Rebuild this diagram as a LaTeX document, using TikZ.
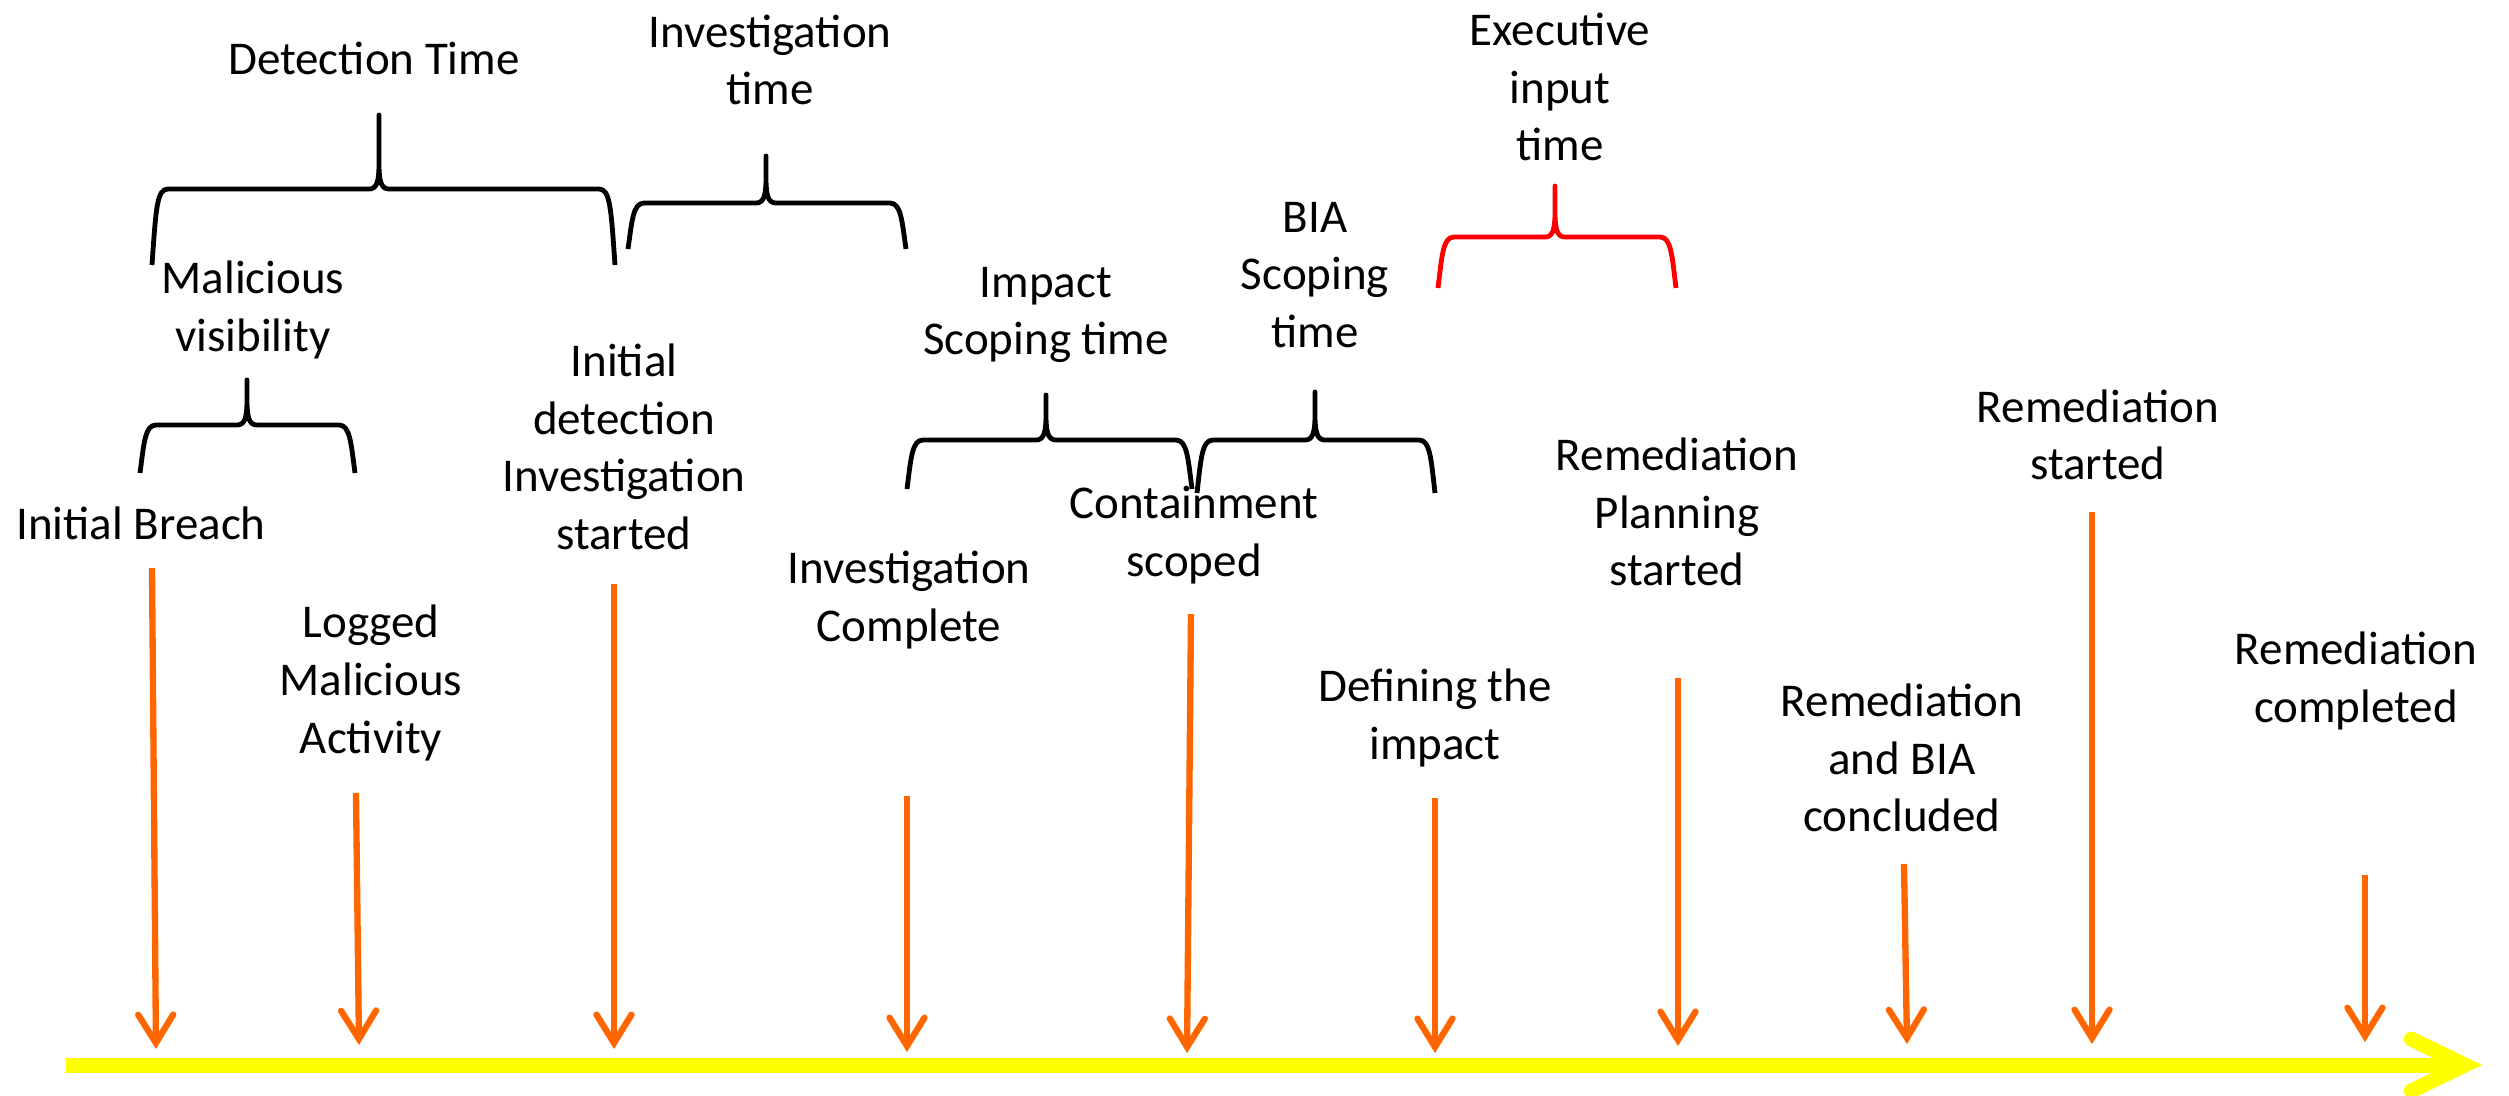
\documentclass[tikz,border=0pt]{standalone}
\usepackage{fontspec}
\setmainfont{Carlito}
\usetikzlibrary{arrows.meta}
\definecolor{arrorange}{RGB}{255,102,0}
\definecolor{axisyellow}{RGB}{255,255,0}
\newcommand{\timebrace}[7]{%
 \draw[#1] (#2,#7) .. controls (#2+4,#5+18) and (#2+5,#5) .. (#2+16,#5)
 -- (#4-10,#5) .. controls (#4-2,#5) and (#4,#5-8) .. (#4,#5-25) -- (#4,#6)
 -- (#4,#5-25) .. controls (#4,#5-8) and (#4+2,#5) .. (#4+10,#5)
 -- (#3-16,#5) .. controls (#3-5,#5) and (#3-4,#5+18) .. (#3,#7);}
\begin{document}
\begin{tikzpicture}[x=0.3pt,y=-0.3pt,
 lbl/.style={align=center, inner sep=0pt, font=\fontsize{14.1pt}{17.3pt}\selectfont},
 evarrow/.style={draw=arrorange, line width=1.9pt, -{Straight Barb[length=8.5pt,width=10.5pt,line cap=round]}},
 axisline/.style={draw=axisyellow, line width=4.5pt, -{Straight Barb[length=16pt,width=15.5pt,line cap=round]}},
 brc/.style={draw=black, line width=1.45pt, line join=round},
 brcred/.style={brc, draw=red}]
\path[use as bounding box] (0,0) rectangle (2509,1095);

% braces
\timebrace{brc}{152}{615}{379}{189}{115}{265}
\timebrace{brc}{628}{906}{766}{203}{156}{249}
\timebrace{brc}{140}{355}{247}{425}{380}{473}
\timebrace{brcred}{1438}{1676}{1555}{237}{186}{288}
\timebrace{brc}{907}{1192}{1046}{440}{395}{489}
\timebrace{brc}{1197}{1435}{1315}{440}{392}{493}

% labels
\node[lbl] (detT) at (374,58) {Detection Time};
\node[lbl] (invT) at (770,60) {Investigation\\time};
\node[lbl] (exeT) at (1560,87) {Executive\\input\\time};
\node[lbl] (malV) at (253,310) {Malicious\\visibility};
\node[lbl] (iniD) at (624,447) {Initial\\detection\\Investigation\\started};
\node[lbl] (impS) at (1046,315) {Impact\\Scoping time};
\node[lbl] (biaS) at (1315,275) {BIA\\Scoping\\time};
\node[lbl] (iniB) at (141,523) {Initial Breach};
\node[lbl] (invC) at (909,600) {Investigation\\Complete};
\node[lbl] (conS) at (1194,535) {Containment\\scoped};
\node[lbl] (logM) at (371,683) {Logged\\Malicious\\Activity};
\node[lbl] (defI) at (1435,718) {Defining the\\impact};
\node[lbl] (remP) at (1677,512) {Remediation\\Planning\\started};
\node[lbl] (remS) at (2098,435) {Remediation\\started};
\node[lbl] (remB) at (1902,758) {Remediation\\and BIA\\concluded};
\node[lbl] (remC) at (2356,681) {Remediation\\completed};

% axis
\coordinate (ax0) at (66,1065);
\coordinate (ax1) at (2482,1065);
\draw[axisline] (ax0) -- (ax1);

% event arrows
\coordinate (a1s) at (152,568);  \coordinate (a1e) at (156,1049);
\coordinate (a2s) at (356,793);  \coordinate (a2e) at (359,1045);
\coordinate (a3s) at (614,584);  \coordinate (a3e) at (614,1049);
\coordinate (a4s) at (907,796);  \coordinate (a4e) at (907,1052);
\coordinate (a5s) at (1191,614); \coordinate (a5e) at (1187,1053);
\coordinate (a6s) at (1435,798); \coordinate (a6e) at (1435,1053);
\coordinate (a7s) at (1678,678); \coordinate (a7e) at (1678,1046);
\coordinate (a8s) at (1904,864); \coordinate (a8e) at (1907,1044);
\coordinate (a9s) at (2092,512); \coordinate (a9e) at (2092,1044);
\coordinate (a10s) at (2365,875); \coordinate (a10e) at (2365,1042);
\foreach \i in {1,...,10} {\draw[evarrow] (a\i s) -- (a\i e);}
\end{tikzpicture}
\end{document}
